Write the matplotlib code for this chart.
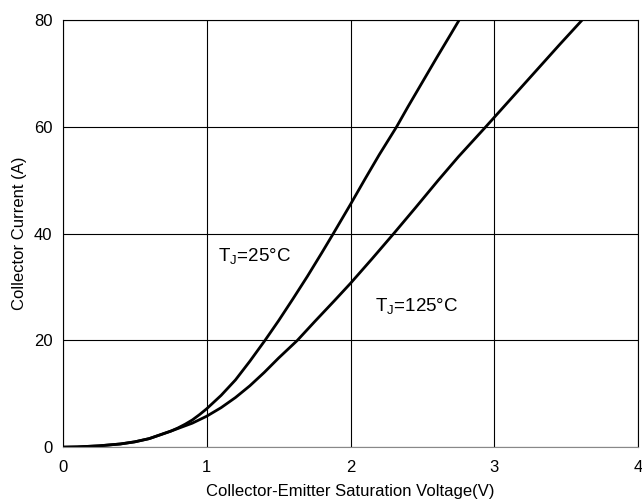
import matplotlib
matplotlib.use('Agg')
import matplotlib.pyplot as plt

# Collector current vs. saturation voltage
v_25 = [0, 0.1, 0.25, 0.4, 0.5, 0.6, 0.75, 0.8, 0.85, 0.9, 0.95, 1.0, 1.1, 1.2, 1.3, 1.405, 1.5,
        1.6, 1.7, 1.8, 1.88, 2.0, 2.1, 2.2, 2.32, 2.4, 2.5, 2.6, 2.7, 2.755]
i_25 = [0, 0.05, 0.25, 0.6, 1.0, 1.6, 3.0, 3.6, 4.3, 5.1, 6.1, 7.2, 9.7, 12.6, 16.1, 20, 23.7,
        27.8, 32.0, 36.4, 40, 45.5, 50.2, 54.8, 60, 63.8, 68.4, 73.0, 77.5, 80]

v_125 = [0, 0.1, 0.25, 0.4, 0.5, 0.6, 0.75, 0.8, 0.9, 1.0, 1.1, 1.2, 1.3, 1.4, 1.5, 1.63, 1.75,
         1.89, 2.0, 2.15, 2.3, 2.45, 2.61, 2.75, 2.94, 3.1, 3.3, 3.45, 3.61]
i_125 = [0, 0.05, 0.25, 0.6, 1.0, 1.6, 3.0, 3.5, 4.5, 5.8, 7.4, 9.3, 11.5, 14.0, 16.7, 20, 23.5,
         27.5, 30.7, 35.3, 40, 44.8, 50, 54.4, 60, 64.8, 70.8, 75.3, 80]

x_ticks = [0, 1, 2, 3, 4]
y_ticks = [0, 20, 40, 60, 80]

plt.rcParams['font.family'] = ['Liberation Sans', 'DejaVu Sans']

fig = plt.figure(figsize=(6.42, 5.03), dpi=100)
ax = fig.add_axes([0.098, 0.111, 0.896, 0.849])

ax.plot(v_25, i_25, color='black', linewidth=2.0, solid_capstyle='round', solid_joinstyle='round')
ax.plot(v_125, i_125, color='black', linewidth=2.0, solid_capstyle='round', solid_joinstyle='round')

ax.set_xlim(0, 4)
ax.set_ylim(0, 80)
ax.set_xticks(x_ticks)
ax.set_yticks(y_ticks)
ax.tick_params(length=0, labelsize=12)
ax.tick_params(axis='x', pad=9)
ax.tick_params(axis='y', pad=7.5)
ax.grid(True, color='black', linewidth=0.8)
for s in ax.spines.values():
    s.set_color('black')
    s.set_linewidth(0.8)
ax.spines['bottom'].set_color('#888888')

ax.set_xlabel('Collector-Emitter Saturation Voltage(V)', fontsize=12, labelpad=7)
ax.set_ylabel('Collector Current (A)', fontsize=12, labelpad=5)

ax.text(1.08, 35.6, r'T$_\mathregular{J}$=25°C', fontsize=13.5, va='center')
ax.text(2.17, 26.2, r'T$_\mathregular{J}$=125°C', fontsize=13.5, va='center')

fig.savefig('out.png', dpi=100)
